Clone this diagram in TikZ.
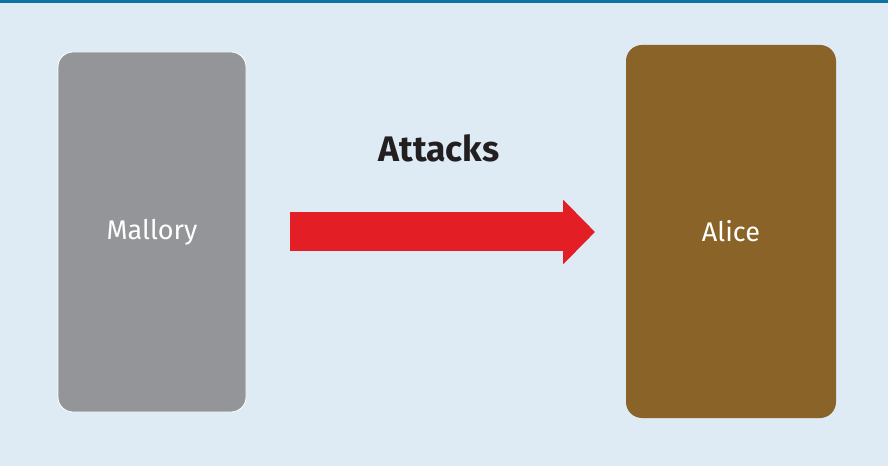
\documentclass[tikz,border=0pt]{standalone}
\usepackage{fontspec}
\setmainfont{Fira Sans}
\usetikzlibrary{arrows.meta}
\definecolor{bgcol}{HTML}{DEEBF4}
\definecolor{topcol}{HTML}{0A76A0}
\definecolor{mallcol}{HTML}{939598}
\definecolor{alicecol}{HTML}{8A6328}
\definecolor{attcol}{HTML}{E31E25}
\definecolor{textcol}{HTML}{231F20}

\begin{document}
\begin{tikzpicture}[
    x=1pt, y=1pt,
    every node/.style={font=\fontsize{27}{32}\selectfont},
    mallbox/.style={
        draw=white, fill=mallcol, rounded corners=15pt, line width=0.8pt,
        minimum width=188pt, minimum height=360pt, text=white,
        inner sep=0pt, outer sep=0pt,
    },
    alicebox/.style={
        fill=alicecol, rounded corners=16pt,
        minimum width=210pt, minimum height=373pt, text=white,
        inner sep=0pt, outer sep=0pt,
    },
    arr/.style={-{Triangle[length=32pt, width=63pt]}, line width=39pt, draw=attcol},
    lbl/.style={font=\bfseries\fontsize{35.5}{42}\selectfont, text=textcol},
]

% === Background ===
\fill[bgcol] (0, 0) rectangle (888, 466);
\fill[topcol] (0, 463) rectangle (888, 466);
\useasboundingbox (0, 0) rectangle (888, 466);

% === Parties ===
\node[mallbox] (mallory) at (152, 234) {Mallory};
\node[alicebox] (alice) at (731, 234.5) {Alice};

% === Attack ===
\draw[arr, shorten <=44pt, shorten >=31pt] (mallory.east |- 0, 234) -- (alice.west |- 0, 234);
\node[lbl] (attacks) at (439, 318) {Attacks};

\end{tikzpicture}
\end{document}
